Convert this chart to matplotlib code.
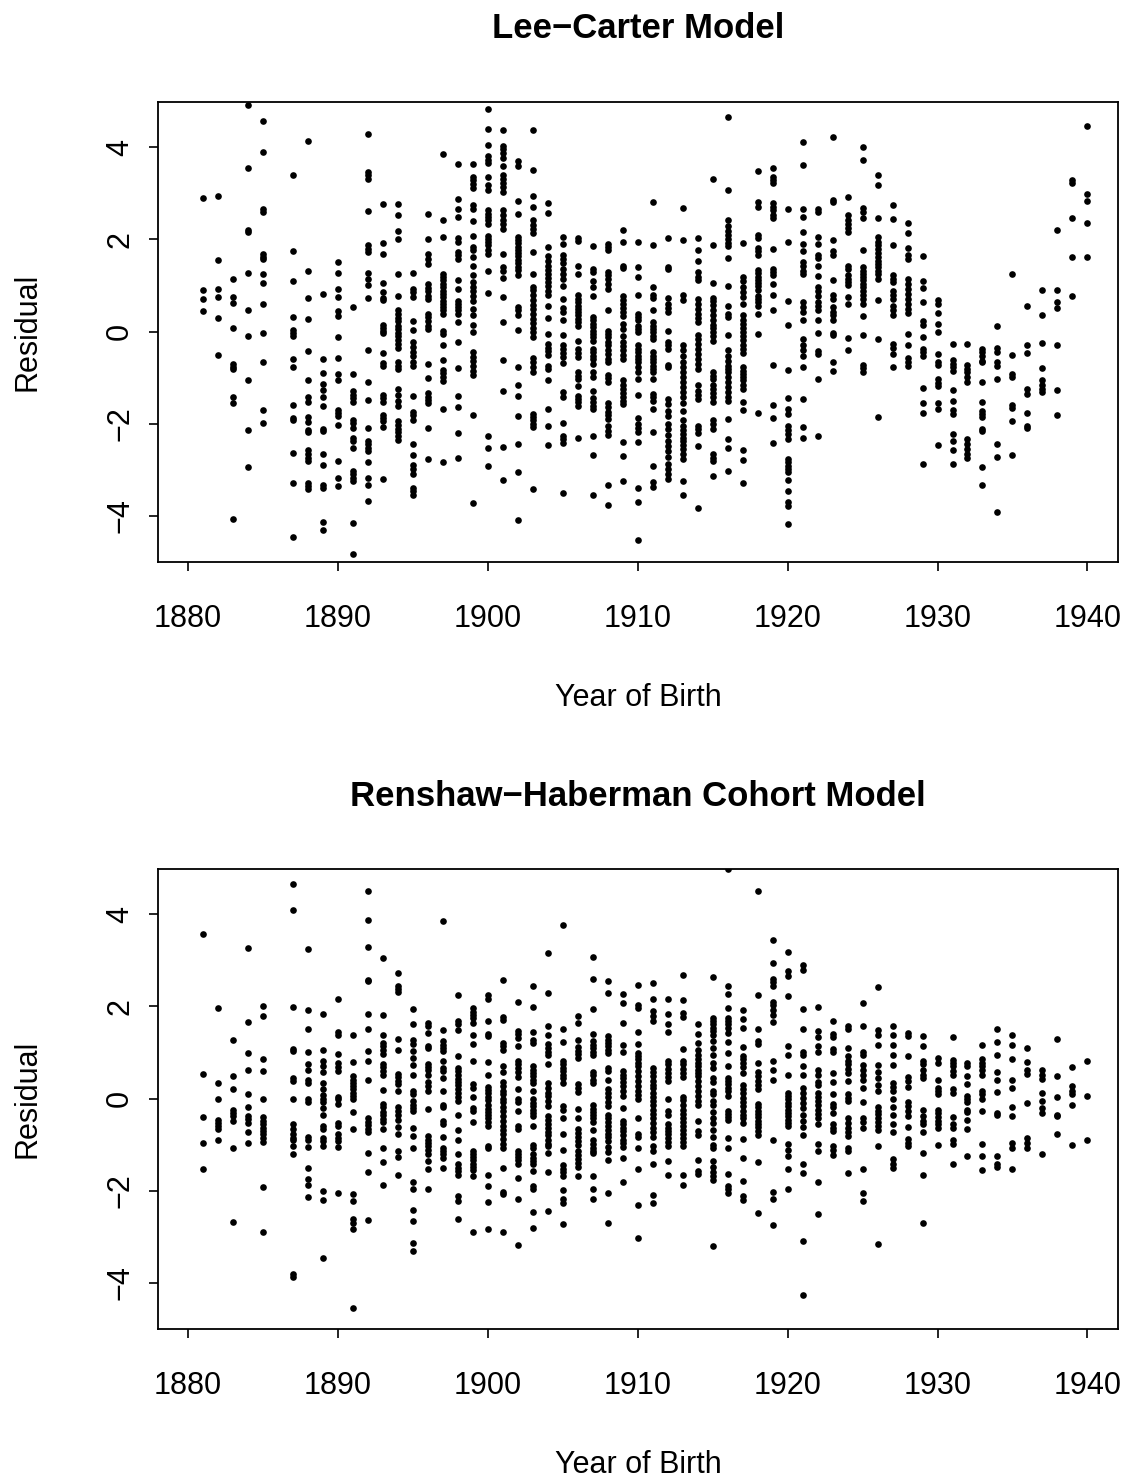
import numpy as np
import matplotlib
matplotlib.use("Agg")
import matplotlib.pyplot as plt

plt.rcParams['font.family'] = ['Liberation Sans', 'DejaVu Sans']

# birth cohorts (1886 has no residuals in either model)
years = [1881, 1882, 1883, 1884, 1885] + list(range(1887, 1941))

# Lee-Carter residuals, one row per cohort
lc_resid = [
    [2.90, 0.90, 0.71, 0.45],
    [2.94, 1.55, 0.92, 0.75, 0.29, -0.50],
    [1.14, 0.75, 0.63, 0.08, -0.70, -0.76, -0.82, -1.42, -1.56, -4.07],
    [4.92, 3.54, 2.21, 2.16, 1.28, 0.46, -0.10, -1.06, -2.13, -2.94],
    [4.57, 3.89, 2.65, 2.60, 1.68, 1.62, 1.57, 1.24, 1.05, 0.59, -0.04, -0.67, -1.70, -1.99],
    [3.39, 1.74, 1.09, 0.31, 0.03, -0.03, -0.09, -0.59, -0.77, -1.59, -1.88, -1.93, -2.64, -3.29, -4.46],
    [4.13, 1.31, 0.73, 0.27, -0.43, -1.06, -1.41, -1.53, -1.85, -1.97, -2.13, -2.17, -2.58, -2.66, -2.74, -2.81, -3.29, -3.36, -3.42],
    [0.81, -0.59, -0.90, -1.14, -1.27, -1.41, -1.61, -2.11, -2.16, -2.65, -2.89, -3.34, -3.40, -4.14, -4.30],
    [1.51, 1.28, 0.93, 0.74, 0.45, 0.33, -0.12, -0.58, -0.93, -1.06, -1.70, -1.77, -1.83, -2.02, -2.81, -3.17, -3.36],
    [0.54, -0.92, -1.30, -1.37, -1.45, -1.52, -1.92, -1.99, -2.10, -2.32, -2.38, -2.53, -3.03, -3.10, -3.18, -3.25, -4.15, -4.83],
    [4.28, 3.47, 3.39, 3.30, 2.62, 1.87, 1.78, 1.72, 1.27, 1.14, 1.02, 0.73, -0.39, -1.10, -1.48, -2.09, -2.38, -2.45, -2.52, -2.60, -2.84, -3.18, -3.34, -3.68],
    [2.76, 1.92, 1.69, 1.05, 0.85, 0.73, 0.68, 0.14, 0.08, 0.01, -0.04, -0.46, -0.68, -0.74, -1.37, -1.45, -1.52, -1.80, -1.87, -1.95, -2.08, -3.21],
    [2.76, 2.52, 2.19, 2.00, 1.24, 0.78, 0.47, 0.38, 0.30, 0.22, 0.13, 0.06, -0.03, -0.10, -0.18, -0.27, -0.36, -0.67, -0.74, -0.82, -1.24, -1.37, -1.51, -1.61, -1.95, -2.03, -2.11, -2.19, -2.27, -2.35],
    [1.28, 0.93, 0.85, 0.76, 0.22, 0.03, -0.23, -0.34, -0.44, -0.54, -0.67, -0.74, -1.40, -1.74, -1.82, -1.91, -2.44, -2.67, -2.89, -2.98, -3.08, -3.39, -3.47, -3.54],
    [2.55, 2.00, 1.69, 1.58, 1.47, 1.04, 0.95, 0.88, 0.78, 0.70, 0.38, 0.31, 0.22, 0.13, 0.06, -0.70, -1.01, -1.34, -1.41, -1.48, -1.56, -2.09, -2.76],
    [3.86, 2.42, 2.05, 1.25, 1.18, 1.11, 1.03, 0.96, 0.89, 0.82, 0.75, 0.67, 0.60, 0.53, 0.46, 0.38, 0.02, -0.05, -0.30, -0.62, -0.83, -0.91, -0.98, -1.07, -1.69, -2.84],
    [3.63, 2.88, 2.66, 2.48, 2.03, 1.95, 1.72, 1.65, 1.58, 1.11, 0.93, 0.67, 0.60, 0.53, 0.46, 0.38, 0.20, -0.22, -0.80, -1.40, -1.64, -2.20, -2.75],
    [3.63, 3.36, 3.28, 3.20, 3.11, 2.74, 2.66, 2.40, 2.08, 1.83, 1.76, 1.61, 1.42, 1.23, 1.07, 0.96, 0.87, 0.78, 0.67, 0.49, 0.35, 0.14, -0.01, -0.45, -0.55, -0.64, -0.74, -0.85, -0.94, -1.81, -3.72],
    [4.82, 4.40, 4.04, 3.80, 3.73, 3.65, 3.36, 3.18, 3.08, 2.63, 2.55, 2.48, 2.41, 2.34, 2.08, 2.01, 1.94, 1.87, 1.77, 1.68, 1.31, 0.84, -2.27, -2.52, -2.91],
    [4.38, 4.02, 3.95, 3.88, 3.76, 3.60, 3.39, 3.31, 3.22, 3.13, 3.02, 2.63, 2.52, 2.42, 2.33, 2.23, 1.69, 1.39, 1.32, 1.17, 0.75, 0.20, -0.61, -1.30, -2.51, -3.23],
    [3.69, 3.60, 2.84, 2.55, 2.06, 1.99, 1.92, 1.84, 1.77, 1.70, 1.63, 1.56, 1.48, 1.41, 1.34, 1.22, 0.54, 0.47, 0.35, 0.04, -0.77, -1.16, -1.40, -1.84, -2.45, -3.04, -4.08],
    [4.38, 3.51, 2.95, 2.71, 2.42, 2.31, 2.23, 2.13, 1.72, 1.24, 0.96, 0.91, 0.80, 0.69, 0.58, 0.48, 0.38, 0.27, 0.18, 0.08, -0.01, -0.11, -0.58, -0.67, -0.77, -0.88, -1.79, -1.86, -1.93, -2.00, -2.08, -3.42],
    [2.78, 2.58, 1.83, 1.63, 1.53, 1.42, 1.34, 1.25, 1.17, 1.07, 0.98, 0.89, 0.80, 0.56, 0.30, -0.05, -0.28, -0.35, -0.43, -0.50, -0.75, -0.82, -1.06, -1.69, -2.06, -2.46],
    [2.05, 1.91, 1.66, 1.58, 1.49, 1.36, 1.25, 1.14, 0.98, 0.71, 0.51, 0.42, 0.25, -0.07, -0.29, -0.38, -0.46, -0.56, -0.68, -1.32, -1.43, -1.99, -2.26, -2.34, -2.41, -3.50],
    [2.03, 1.96, 1.43, 1.24, 0.80, 0.71, 0.64, 0.56, 0.49, 0.42, 0.35, 0.28, 0.20, 0.13, -0.20, -0.38, -0.47, -0.56, -0.88, -0.96, -1.03, -1.19, -1.39, -1.46, -1.53, -1.61, -2.32],
    [1.85, 1.36, 1.29, 1.09, 0.96, 0.78, 0.31, 0.24, 0.17, 0.09, 0.02, -0.05, -0.12, -0.20, -0.38, -0.45, -0.52, -0.59, -0.70, -0.87, -0.99, -1.30, -1.45, -1.53, -1.61, -1.68, -2.27, -2.67, -3.55],
    [1.90, 1.83, 1.76, 1.30, 1.22, 1.13, 1.03, 0.93, 0.46, 0.02, -0.05, -0.12, -0.22, -0.30, -0.39, -0.48, -0.59, -0.67, -0.94, -1.01, -1.09, -1.55, -1.64, -1.74, -1.82, -1.89, -2.04, -2.15, -2.24, -3.33, -3.76],
    [2.21, 1.95, 1.42, 1.37, 0.78, 0.69, 0.60, 0.51, 0.42, 0.33, 0.17, 0.06, -0.10, -0.23, -0.32, -0.41, -0.51, -0.59, -1.06, -1.15, -1.24, -1.33, -1.41, -1.50, -1.57, -2.40, -2.71, -3.25],
    [1.94, 1.40, 1.19, 0.80, 0.38, 0.31, 0.24, 0.13, 0.06, -0.01, -0.30, -0.38, -0.45, -0.52, -0.59, -0.67, -0.77, -0.88, -1.03, -1.37, -1.88, -2.00, -2.10, -2.19, -2.40, -3.39, -3.70, -4.52],
    [2.82, 1.88, 0.96, 0.80, 0.72, 0.46, 0.20, 0.13, 0.06, -0.01, -0.09, -0.16, -0.45, -0.52, -0.59, -0.67, -0.74, -0.81, -0.88, -1.03, -1.35, -1.43, -1.50, -1.69, -2.19, -2.91, -3.27, -3.38],
    [2.03, 1.40, 1.35, 0.73, 0.60, 0.51, 0.43, 0.02, -0.23, -0.30, -0.38, -0.72, -0.77, -1.46, -1.57, -1.72, -1.84, -2.00, -2.11, -2.24, -2.37, -2.49, -2.60, -2.73, -2.87, -2.98, -3.08, -3.20],
    [2.68, 1.98, 0.80, 0.69, -0.30, -0.41, -0.52, -0.67, -0.77, -0.87, -0.99, -1.10, -1.21, -1.32, -1.43, -1.55, -1.72, -1.91, -2.04, -2.13, -2.22, -2.30, -2.37, -2.46, -2.55, -2.66, -2.76, -3.25, -3.54],
    [2.03, 1.77, 1.53, 1.29, 1.19, 1.11, 0.71, 0.60, 0.49, 0.38, 0.29, 0.20, -0.07, -0.17, -0.27, -0.38, -0.48, -0.59, -0.70, -0.81, -1.17, -1.28, -1.38, -1.46, -2.04, -2.11, -2.21, -2.49, -3.83],
    [3.31, 1.88, 1.05, 0.73, 0.66, 0.58, 0.46, 0.35, 0.24, 0.15, 0.08, -0.01, -0.10, -0.20, -0.87, -0.96, -1.04, -1.16, -1.25, -1.34, -1.43, -1.53, -1.92, -2.00, -2.11, -2.66, -2.75, -2.81, -3.13],
    [4.65, 3.08, 2.41, 2.30, 2.19, 2.10, 2.01, 1.92, 1.85, 1.59, 0.98, 0.56, 0.38, 0.31, -0.07, -0.41, -0.52, -0.63, -0.74, -0.81, -0.88, -0.99, -1.10, -1.21, -1.32, -1.43, -1.50, -1.90, -2.33, -2.53, -3.02],
    [1.92, 1.18, 1.09, 0.96, 0.85, 0.75, 0.60, 0.35, 0.26, 0.17, 0.08, 0.00, -0.09, -0.18, -0.29, -0.38, -0.46, -0.77, -0.85, -0.92, -0.99, -1.06, -1.16, -1.24, -1.53, -1.71, -2.58, -2.79, -3.29],
    [3.48, 2.82, 2.71, 2.10, 2.03, 1.81, 1.74, 1.66, 1.34, 1.27, 1.19, 1.12, 1.05, 0.98, 0.90, 0.78, 0.71, 0.64, 0.56, 0.38, -0.05, -1.77],
    [3.55, 3.35, 3.28, 3.22, 2.79, 2.71, 2.64, 2.53, 2.46, 1.79, 1.36, 1.29, 1.22, 1.03, 0.80, 0.46, -0.72, -1.59, -1.87, -2.42],
    [2.66, 1.94, 0.67, 0.14, -0.83, -1.45, -1.67, -1.79, -2.04, -2.13, -2.22, -2.33, -2.76, -2.84, -2.91, -2.98, -3.05, -3.23, -3.45, -3.70, -3.78, -4.17],
    [4.11, 3.62, 2.66, 2.48, 2.16, 1.90, 1.74, 1.51, 1.42, 1.32, 1.25, 0.64, 0.53, 0.42, 0.26, -0.17, -0.30, -0.41, -0.54, -0.77, -1.46, -2.08, -2.32],
    [2.66, 2.60, 2.06, 1.90, 1.65, 1.59, 1.43, 1.20, 0.96, 0.89, 0.78, 0.64, 0.56, 0.46, 0.24, -0.04, -0.43, -0.48, -1.03, -2.27],
    [4.23, 2.86, 2.82, 1.99, 1.74, 1.65, 1.11, 0.80, 0.71, 0.53, 0.43, 0.35, 0.26, -0.04, -0.07, -0.67, -0.85],
    [2.92, 2.52, 2.43, 2.34, 2.25, 2.17, 1.43, 1.36, 1.22, 1.14, 1.07, 1.00, 0.75, 0.59, -0.14, -0.40],
    [4.00, 3.73, 2.68, 2.60, 2.46, 1.76, 1.40, 1.32, 1.25, 1.18, 1.11, 1.03, 0.96, 0.89, 0.80, 0.71, 0.60, 0.33, -0.07, -0.72, -0.79, -0.88],
    [3.39, 3.19, 2.46, 2.05, 1.95, 1.87, 1.78, 1.70, 1.61, 1.54, 1.47, 1.40, 1.32, 1.24, 1.14, 0.69, -0.16, -1.85],
    [2.74, 2.45, 1.87, 1.22, 1.14, 1.07, 0.89, 0.80, 0.71, 0.56, 0.46, 0.35, -0.27, -0.36, -0.48, -0.77],
    [2.35, 2.14, 1.82, 1.65, 1.58, 1.14, 1.03, 0.93, 0.82, 0.71, 0.60, 0.49, 0.41, -0.05, -0.30, -0.57, -0.67, -0.74],
    [1.64, 1.09, 0.94, 0.64, 0.22, 0.14, -0.12, -0.38, -0.45, -0.52, -1.23, -1.55, -1.77, -2.87],
    [0.69, 0.60, 0.40, 0.17, 0.00, -0.49, -0.67, -0.72, -1.03, -1.12, -1.19, -1.55, -1.68, -2.46],
    [-0.27, -0.62, -0.70, -0.78, -0.85, -1.26, -1.50, -1.71, -1.79, -2.22, -2.37, -2.58, -2.87],
    [-0.27, -0.72, -0.81, -0.88, -0.99, -1.09, -2.33, -2.44, -2.55, -2.66, -2.75],
    [-0.38, -0.45, -0.54, -0.63, -0.67, -1.10, -1.53, -1.73, -1.79, -1.86, -2.11, -2.16, -2.94, -3.34],
    [0.11, -0.35, -0.45, -0.67, -0.74, -1.04, -2.45, -2.73, -3.91],
    [1.25, -0.50, -0.92, -0.98, -1.59, -1.66, -1.95, -2.68],
    [0.56, -0.30, -0.47, -1.24, -1.35, -1.77, -2.04, -2.09],
    [0.91, 0.35, -0.25, -0.80, -1.06, -1.15, -1.24, -1.32],
    [2.21, 0.91, 0.64, 0.51, -0.30, -1.27, -1.81],
    [3.28, 3.23, 2.46, 1.61, 0.78],
    [4.47, 2.98, 2.84, 2.35, 1.61],
]

# Renshaw-Haberman cohort model residuals, one row per cohort
rh_resid = [
    [3.56, 0.53, -0.40, -0.96, -1.52],
    [1.96, 0.34, 0.00, -0.46, -0.53, -0.60, -0.67, -0.90],
    [1.26, 0.48, 0.20, -0.24, -0.31, -0.38, -0.49, -1.07, -2.68],
    [3.26, 1.65, 0.98, 0.61, 0.09, -0.18, -0.37, -0.44, -0.53, -0.72, -0.96],
    [2.00, 1.80, 0.86, 0.59, -0.01, -0.40, -0.48, -0.56, -0.64, -0.71, -0.78, -0.85, -0.94, -1.92, -2.89],
    [4.66, 4.09, 1.98, 1.08, 1.04, 0.45, 0.39, -0.02, -0.56, -0.66, -0.78, -0.85, -0.91, -1.03, -1.21, -3.80, -3.88],
    [3.25, 1.93, 1.51, 1.01, 0.74, 0.61, 0.41, 0.34, -0.02, -0.07, -0.84, -0.91, -1.06, -1.50, -1.74, -1.87, -2.13],
    [1.84, 1.05, 0.82, 0.70, 0.57, 0.34, 0.20, 0.07, -0.01, -0.07, -0.20, -0.35, -0.60, -0.66, -0.85, -0.93, -1.02, -2.00, -2.21, -3.46],
    [2.17, 1.44, 1.37, 0.97, 0.77, 0.68, 0.59, 0.03, -0.02, -0.12, -0.53, -0.60, -0.78, -0.85, -0.93, -1.06, -2.05],
    [1.37, 0.79, 0.48, 0.41, 0.34, 0.27, 0.20, 0.12, 0.05, -0.02, -0.29, -0.67, -2.08, -2.23, -2.62, -2.70, -2.84, -4.54],
    [4.50, 3.88, 3.29, 2.58, 2.55, 1.84, 1.51, 1.04, 0.82, 0.40, -0.43, -0.51, -0.58, -0.66, -0.73, -1.18, -1.60, -2.64],
    [3.04, 1.81, 1.37, 1.21, 1.14, 1.05, 0.97, 0.75, 0.68, 0.59, 0.52, 0.19, -0.12, -0.19, -0.29, -0.36, -0.44, -0.51, -0.67, -1.08, -1.37, -1.88],
    [2.73, 2.44, 2.38, 2.31, 1.30, 1.06, 0.54, 0.46, 0.39, 0.32, 0.17, -0.19, -0.27, -0.36, -0.46, -0.61, -0.77, -1.13, -1.27, -1.66],
    [1.95, 1.61, 1.28, 1.19, 1.04, 0.88, 0.72, 0.50, 0.16, 0.09, -0.06, -0.13, -0.20, -0.27, -0.64, -0.82, -1.07, -1.81, -1.97, -2.41, -2.65, -3.13, -3.30],
    [1.64, 1.57, 1.42, 1.15, 1.10, 0.75, 0.68, 0.61, 0.52, 0.35, 0.28, 0.16, -0.22, -0.82, -0.89, -0.96, -1.03, -1.11, -1.21, -1.36, -1.52, -1.96],
    [3.86, 1.48, 1.24, 1.17, 1.10, 1.03, 0.82, 0.67, 0.59, 0.45, 0.16, -0.14, -0.19, -0.48, -0.56, -0.84, -1.07, -1.14, -1.21, -1.29, -1.50],
    [2.24, 1.68, 1.61, 1.48, 0.93, 0.67, 0.59, 0.52, 0.43, 0.36, 0.29, 0.20, 0.11, 0.03, -0.06, -0.35, -0.69, -0.89, -1.20, -1.43, -1.50, -1.58, -1.65, -2.12, -2.23, -2.62],
    [1.97, 1.88, 1.81, 1.74, 1.64, 1.37, 1.19, 0.82, 0.32, 0.23, 0.03, -0.20, -0.27, -0.51, -1.13, -1.20, -1.27, -1.34, -1.42, -1.49, -1.56, -1.68, -2.89],
    [2.24, 2.17, 1.69, 1.40, 1.35, 0.80, 0.52, 0.25, 0.18, 0.11, 0.04, -0.04, -0.13, -0.22, -0.29, -0.36, -0.43, -0.51, -0.59, -1.03, -1.08, -1.65, -1.89, -2.24, -2.84],
    [2.58, 1.77, 1.71, 1.21, 1.14, 1.06, 0.70, 0.58, 0.35, 0.27, 0.17, 0.09, 0.00, -0.08, -0.18, -0.27, -0.37, -0.49, -0.60, -0.69, -0.78, -0.87, -0.98, -1.07, -1.50, -2.03, -2.08, -2.89],
    [2.10, 1.46, 1.39, 1.32, 1.14, 0.81, 0.74, 0.67, 0.58, 0.46, 0.20, -0.02, -0.07, -0.26, -0.60, -0.67, -1.13, -1.20, -1.27, -1.34, -1.42, -1.72, -2.19, -3.18],
    [2.45, 1.98, 1.45, 1.28, 1.21, 0.70, 0.63, 0.56, 0.48, 0.41, 0.34, 0.16, -0.02, -0.09, -0.17, -0.24, -0.31, -0.38, -0.60, -1.01, -1.08, -1.20, -1.29, -1.36, -1.43, -1.58, -1.90, -1.97, -2.46, -2.81],
    [3.16, 2.29, 1.58, 1.37, 1.19, 1.10, 1.01, 0.94, 0.76, 0.34, 0.23, 0.12, 0.05, -0.06, -0.17, -0.38, -0.47, -0.56, -0.64, -0.72, -0.80, -0.89, -0.98, -1.02, -1.19, -1.59, -2.44],
    [3.76, 1.50, 1.23, 0.82, 0.74, 0.66, 0.59, 0.52, 0.45, 0.34, -0.17, -0.24, -0.43, -0.78, -1.11, -1.45, -1.52, -1.59, -1.68, -1.99, -2.19, -2.26, -2.73],
    [1.79, 1.64, 1.27, 1.12, 1.04, 0.97, 0.88, 0.32, 0.23, 0.14, -0.22, -0.42, -0.67, -0.74, -0.84, -0.93, -1.01, -1.14, -1.23, -1.31, -1.40, -1.48, -1.68],
    [3.07, 2.60, 1.95, 1.40, 1.24, 1.17, 1.10, 1.01, 0.94, 0.58, 0.51, 0.41, 0.34, -0.14, -0.22, -0.29, -0.36, -0.43, -0.51, -0.69, -0.91, -0.98, -1.07, -1.14, -1.19, -1.67, -1.97, -2.19],
    [2.56, 2.29, 1.35, 1.28, 1.21, 1.14, 1.06, 0.99, 0.67, 0.59, 0.41, 0.20, 0.12, 0.03, -0.07, -0.17, -0.35, -0.42, -0.51, -0.60, -0.69, -0.77, -0.84, -0.93, -1.06, -1.16, -1.34, -2.06, -2.70],
    [2.26, 2.08, 1.63, 1.17, 1.01, 0.59, 0.52, 0.45, 0.36, 0.27, 0.16, 0.05, -0.20, -0.49, -0.56, -0.64, -0.71, -0.80, -0.89, -0.96, -1.06, -1.30, -1.81],
    [2.47, 2.04, 1.97, 1.45, 1.19, 0.99, 0.92, 0.85, 0.77, 0.70, 0.59, 0.48, 0.38, 0.27, 0.16, 0.07, -0.02, -0.43, -0.77, -0.84, -1.07, -1.53, -2.31, -3.02],
    [2.51, 2.16, 1.89, 1.79, 1.68, 0.67, 0.58, 0.48, 0.39, 0.30, 0.22, 0.12, 0.03, -0.06, -0.14, -0.24, -0.33, -0.43, -0.53, -0.64, -0.72, -0.84, -1.03, -1.13, -1.42, -2.10, -2.26],
    [2.15, 1.84, 1.61, 1.45, 0.82, 0.74, 0.65, 0.56, 0.46, 0.38, 0.00, -0.27, -0.36, -0.56, -0.64, -0.71, -0.78, -0.85, -0.94, -1.03, -1.35, -1.65],
    [2.67, 2.13, 1.86, 1.77, 1.08, 0.82, 0.74, 0.65, 0.56, 0.46, 0.03, -0.04, -0.14, -0.24, -0.33, -0.42, -0.51, -0.60, -0.69, -0.77, -0.85, -0.94, -1.03, -1.65, -1.87],
    [1.61, 1.39, 1.21, 1.06, 0.95, 0.85, 0.77, 0.70, 0.63, 0.56, 0.48, 0.39, 0.27, 0.16, 0.05, -0.06, -0.14, -0.49, -0.71, -0.80, -1.34, -1.58, -1.63],
    [2.63, 1.75, 1.68, 1.61, 1.53, 1.46, 1.37, 1.24, 1.10, 0.95, 0.77, 0.67, 0.45, 0.36, 0.16, 0.09, -0.06, -0.13, -0.29, -0.42, -0.53, -0.69, -0.84, -1.00, -1.07, -1.36, -1.49, -1.59, -1.68, -1.76, -3.20],
    [4.99, 2.45, 2.26, 1.97, 1.75, 1.68, 1.61, 1.53, 1.42, 1.23, 0.99, 0.70, 0.45, 0.38, 0.32, 0.23, 0.16, 0.05, -0.27, -0.33, -0.40, -0.46, -0.85, -1.07, -1.63, -1.90, -1.97, -2.05],
    [1.93, 1.73, 1.53, 1.11, 0.92, 0.85, 0.77, 0.68, 0.56, 0.29, 0.20, 0.11, 0.01, -0.07, -0.17, -0.26, -0.35, -0.43, -0.53, -0.87, -1.29, -1.78, -2.12, -2.21],
    [4.50, 2.24, 1.50, 1.24, 1.19, 0.77, 0.58, 0.48, 0.38, 0.29, 0.20, -0.12, -0.19, -0.26, -0.33, -0.40, -0.48, -0.55, -0.62, -0.71, -0.80, -1.38, -2.48],
    [3.43, 2.94, 2.60, 2.53, 2.44, 2.10, 2.02, 1.93, 1.82, 1.66, 0.82, 0.61, 0.41, -0.91, -2.02, -2.19, -2.75],
    [3.18, 2.76, 2.65, 2.23, 1.14, 0.95, 0.51, 0.12, 0.05, -0.02, -0.09, -0.17, -0.24, -0.31, -0.38, -0.46, -0.53, -0.60, -0.98, -1.11, -1.25, -1.52, -1.97],
    [2.89, 2.78, 1.95, 1.50, 1.01, 0.95, 0.70, 0.52, 0.23, 0.12, 0.01, -0.09, -0.20, -0.35, -0.49, -0.62, -0.80, -1.43, -1.61, -3.08, -4.27],
    [1.98, 1.46, 1.33, 1.14, 1.01, 0.61, 0.52, 0.36, 0.29, 0.12, 0.03, -0.06, -0.14, -0.24, -0.33, -0.43, -0.55, -0.98, -1.14, -1.81, -2.50],
    [1.68, 1.40, 1.33, 1.08, 1.01, 0.56, 0.36, 0.09, -0.12, -0.19, -0.31, -0.56, -0.64, -0.71, -1.02, -1.11, -1.23],
    [1.57, 1.50, 1.10, 0.92, 0.82, 0.74, 0.65, 0.56, 0.38, 0.09, 0.01, -0.06, -0.43, -0.53, -0.64, -0.72, -0.82, -1.07, -1.14, -1.61],
    [2.08, 1.57, 1.01, 0.95, 0.72, 0.63, 0.52, 0.41, 0.23, -0.07, -0.43, -0.51, -0.64, -1.53, -2.05, -2.23],
    [2.43, 1.48, 1.37, 1.16, 0.72, 0.58, 0.45, 0.30, 0.17, -0.19, -0.26, -0.33, -0.42, -0.51, -0.60, -0.69, -1.02, -3.15],
    [1.57, 1.37, 1.17, 0.95, 0.72, 0.34, 0.25, 0.16, 0.00, -0.19, -0.36, -0.55, -0.72, -1.32, -1.42, -1.50],
    [1.42, 1.35, 0.92, 0.46, 0.38, 0.25, -0.07, -0.17, -0.26, -0.38, -0.61, -0.87, -0.96, -1.03],
    [1.35, 1.14, 0.81, 0.75, 0.63, 0.52, 0.45, -0.24, -0.38, -0.48, -0.56, -0.72, -1.18, -1.66, -2.70],
    [0.88, 0.77, 0.41, 0.23, 0.16, 0.09, -0.24, -0.31, -0.40, -0.49, -0.56, -0.65, -1.01],
    [1.33, 0.84, 0.77, 0.70, 0.59, 0.50, 0.20, 0.12, -0.40, -0.55, -0.64, -0.91, -0.98, -1.43],
    [0.77, 0.70, 0.48, 0.32, 0.05, -0.01, -0.07, -0.24, -0.29, -0.46, -0.67, -1.25],
    [1.16, 0.85, 0.77, 0.70, 0.63, 0.52, 0.16, 0.09, 0.00, -0.26, -0.98, -1.25, -1.54],
    [1.51, 1.22, 0.95, 0.57, 0.41, 0.14, -0.31, -0.36, -1.25, -1.42, -1.49],
    [1.37, 1.16, 0.85, 0.41, 0.22, -0.18, -0.38, -0.96, -1.07, -1.52],
    [1.10, 0.79, 0.61, 0.54, -0.09, -0.85, -0.96, -1.07],
    [0.61, 0.52, 0.43, 0.12, -0.06, -0.20, -0.31, -1.21],
    [1.30, 0.48, 0.04, -0.36, -0.38, -0.77],
    [0.68, 0.27, 0.17, 0.09, -0.13, -1.00],
    [0.82, 0.05, -0.91],
]

titles = ["Lee\u2212Carter Model", "Renshaw\u2212Haberman Cohort Model"]
x_ticks = [1880, 1890, 1900, 1910, 1920, 1930, 1940]
y_ticks = [-4, -2, 0, 2, 4]

W, H = 1130, 1481
fig = plt.figure(figsize=(W / 100, H / 100), dpi=100)


def flatten(resid):
    xs = np.concatenate([[yr] * len(r) for yr, r in zip(years, resid)])
    ys = np.concatenate(resid)
    return xs, ys


# axes boxes in pixels: left, top, right, bottom
boxes = [(158, 102, 1118, 562), (158, 869, 1118, 1329)]

for resid, title, (l, t, r, b) in zip([lc_resid, rh_resid], titles, boxes):
    ax = fig.add_axes([l / W, 1 - b / H, (r - l) / W, (b - t) / H])
    xs, ys = flatten(resid)
    ax.plot(xs, ys, "o", color="black", ms=4.8, mew=0)
    ax.set_xlim(1878.0, 1942.04)
    ax.set_ylim(-5.0, 4.98)
    ax.set_xticks(x_ticks)
    ax.set_yticks(y_ticks)
    ax.tick_params(direction="out", length=6.5, width=1.2, labelsize=22, colors="black")
    ax.tick_params(axis="x", pad=24)
    ax.tick_params(axis="y", pad=10, labelrotation=90)
    for lbl in ax.get_yticklabels():
        lbl.set_va("center")
    for s in ax.spines.values():
        s.set_linewidth(1.3)
    # title, axis labels placed like base R graphics
    cx = (l + r) / 2 / W
    fig.text(cx, 1 - (t - 73) / H, title, ha="center", va="center",
             fontsize=25, fontweight="bold")
    fig.text(cx, 1 - (b + 136) / H, "Year of Birth", ha="center", va="center", fontsize=22)
    fig.text(28 / W, 1 - (t + b) / 2 / H, "Residual", ha="center", va="center",
             rotation=90, fontsize=22)

fig.savefig("out.png", dpi=100)
